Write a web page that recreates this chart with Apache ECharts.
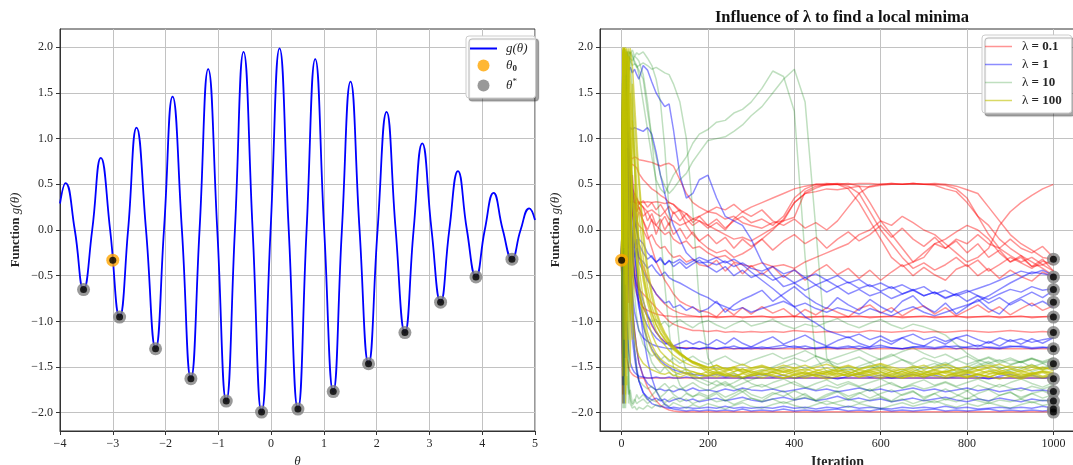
<!DOCTYPE html>
<html>
<head>
<meta charset="utf-8">
<title>Local minima search</title>
<script src="https://cdn.jsdelivr.net/npm/echarts@6/dist/echarts.min.js"></script>
<style>
  html, body { margin: 0; padding: 0; background: #fff; }
  #chart { width: 1073px; height: 465px; }
</style>
</head>
<body>
<div id="chart"></div>
<script>
// ---- g(theta) sampled at its extrema and zero crossings ----
const CURVE_THETA = [-4.00, -3.895, -3.72, -3.554, -3.39, -3.226, -3.05, -2.871, -2.71, -2.550,
  -2.37, -2.189, -2.03, -1.867, -1.69, -1.520, -1.356, -1.192, -1.02, -0.850,
  -0.686, -0.522, -0.35, -0.181, -0.01, 0.160, 0.334, 0.508, 0.672, 0.836,
  1.006, 1.177, 1.341, 1.505, 1.676, 1.846, 2.017, 2.188, 2.36, 2.535,
  2.70, 2.864, 3.04, 3.211, 3.376, 3.540, 3.71, 3.881, 4.048, 4.215,
  4.39, 4.563, 4.727, 4.891, 5.00];
const CURVE_G = [0.29, 0.514, 0, -0.652, 0, 0.790, 0, -0.953, 0, 1.120,
  0, -1.300, 0, 1.460, 0, -1.627, 0, 1.761, 0, -1.873,
  0, 1.949, 0, -1.993, 0, 1.989, 0, -1.960, 0, 1.870,
  0, -1.768, 0, 1.623, 0, -1.464, 0, 1.293, 0, -1.123,
  0, 0.949, 0, -0.790, 0, 0.645, 0, -0.514, 0, 0.406,
  0, -0.319, 0, 0.236, 0.11];

// starting point and local minima
const THETA0 = -3.0;
const G0 = -0.33;
const MIN_THETA = [-3.554, -2.871, -2.189, -1.520, -0.850, -0.181, 0.508, 1.177, 1.846, 2.535, 3.211, 3.881, 4.563];
const MIN_G = [-0.652, -0.953, -1.300, -1.627, -1.873, -1.993, -1.960, -1.768, -1.464, -1.123, -0.790, -0.514, -0.319];

// tick labels
const X_TICKS_LEFT = [-4, -3, -2, -1, 0, 1, 2, 3, 4, 5];
const Y_TICKS = [-2.0, -1.5, -1.0, -0.5, 0.0, 0.5, 1.0, 1.5, 2.0];
const X_TICKS_RIGHT = [0, 200, 400, 600, 800, 1000];

// ---- optimisation runs: g(theta_t) at these iterations ----
const ITER = [0, 3, 6, 9, 12, 16, 20, 25, 30, 35, 40,
  50, 60, 70, 80, 90, 100, 110, 120, 135, 150, 165, 180,
  200, 220, 240, 260, 280, 300,
  325, 350, 375, 400, 425, 450, 475, 500,
  525, 550, 575, 600, 625, 650, 675, 700,
  725, 750, 775, 800, 825, 850, 875, 900,
  925, 950, 975, 1000];

const RUNS_L01 = [
  [-0.33, 0.6, 1.2, 0.4, 1.0, 0.9, 0.8, 0.78, 0.8, 0.79, 0.77,
   0.76, 0.75, 0.74, 0.72, 0.70, 0.72, 0.73, 0.70, 0.55, 0.40, 0.30, 0.25,
   0.20, 0.18, 0.12, 0.15, 0.08, 0.05,
   0.02, 0.08, 0.10, 0.14, 0.42, 0.48, 0.50, 0.51,
   0.50, 0.51, 0.51, 0.50, 0.51, 0.50, 0.51, 0.50,
   0.51, 0.50, 0.48, 0.44, 0.40, 0.25, 0.10, -0.05,
   -0.15, -0.22, -0.30, -0.32],
  [-0.33, 1.4, -0.2, 0.9, 0.2, 0.35, 0.30, 0.31, 0.30, 0.29, 0.31,
   0.30, 0.31, 0.30, 0.31, 0.30, 0.29, 0.30, 0.28, 0.20, 0.05, -0.05, -0.12,
   -0.20, -0.25, -0.22, -0.30, -0.26, -0.20,
   -0.10, 0.00, 0.12, 0.30, 0.40, 0.42, 0.45, 0.44,
   0.46, 0.48, 0.47, 0.49, 0.50, 0.50, 0.51, 0.50,
   0.49, 0.45, 0.42, 0.30, 0.15, 0.05, -0.10, -0.20,
   -0.28, -0.35, -0.42, -0.50],
  [-0.33, -1.5, 0.8, 1.1, 0.6, 0.9, 0.7, 0.72, 0.70, 0.68, 0.62,
   0.55, 0.50, 0.45, 0.42, 0.38, 0.35, 0.30, 0.28, 0.22, 0.18, 0.12, 0.10,
   0.05, 0.00, -0.05, -0.10, -0.08, -0.12,
   -0.05, 0.02, 0.10, 0.30, 0.40, 0.46, 0.50, 0.50,
   0.51, 0.48, 0.30, 0.10, -0.05, -0.20, -0.35, -0.30,
   -0.15, -0.10, -0.02, 0.05, 0.00, -0.10, -0.25, -0.35,
   -0.30, -0.40, -0.38, -0.45],
  [-0.33, 1.8, 0.2, -1.0, 0.5, 1.0, 0.4, 0.6, 0.3, 0.2, 0.25,
   0.15, 0.20, 0.10, 0.05, 0.00, -0.05, -0.02, -0.10, -0.15, -0.12, -0.20, -0.18,
   -0.25, -0.30, -0.28, -0.35, -0.38, -0.40,
   -0.36, -0.40, -0.38, -0.42, -0.35, -0.30, -0.25, -0.20,
   -0.15, -0.05, 0.00, 0.10, 0.05, 0.15, 0.08, 0.00,
   -0.05, -0.15, -0.25, -0.35, -0.30, -0.20, 0.05, 0.20,
   0.30, 0.38, 0.45, 0.50],
  [-0.33, 0.4, 1.6, 0.0, 0.8, 0.6, 0.5, 0.45, 0.40, 0.35, 0.30,
   0.25, 0.20, 0.22, 0.18, 0.15, 0.20, 0.12, 0.10, 0.05, 0.08, 0.12, 0.15,
   0.20, 0.25, 0.22, 0.28, 0.20, 0.25,
   0.30, 0.35, 0.40, 0.45, 0.48, 0.50, 0.49, 0.50,
   0.45, 0.30, 0.10, -0.10, -0.30, -0.40, -0.35, -0.25,
   -0.15, -0.20, -0.10, -0.15, -0.05, -0.15, -0.20, -0.10,
   -0.20, -0.25, -0.18, -0.30],
  [-0.33, 1.0, -1.2, 0.5, 1.3, 0.2, -0.3, -0.5, -0.6, -0.7, -0.78,
   -0.85, -0.88, -0.90, -0.92, -0.93, -0.94, -0.94, -0.95, -0.95, -0.95, -0.95, -0.95,
   -0.95, -0.95, -0.95, -0.95, -0.95, -0.95,
   -0.95, -0.95, -0.95, -0.95, -0.95, -0.95, -0.95, -0.95,
   -0.95, -0.95, -0.95, -0.95, -0.95, -0.95, -0.95, -0.95,
   -0.95, -0.95, -0.95, -0.95, -0.95, -0.95, -0.95, -0.95,
   -0.95, -0.95, -0.95, -0.95],
  [-0.33, -1.8, 0.9, 1.5, 0.2, 0.5, 0.3, 0.32, 0.30, 0.28, 0.25,
   0.10, -0.05, -0.20, -0.35, -0.45, -0.55, -0.62, -0.70, -0.78, -0.82, -0.85, -0.88,
   -0.90, -0.95, -0.86, -0.93, -0.85, -0.92,
   -0.84, -0.91, -0.86, -0.95, -0.87, -0.93, -0.85, -0.90,
   -0.95, -0.86, -0.82, -0.91, -0.85, -0.94, -0.87, -0.83,
   -0.92, -0.85, -0.94, -0.88, -0.82, -0.90, -0.84, -0.93,
   -0.86, -0.80, -0.88, -0.83],
  [-0.33, 0.7, 1.9, -0.5, 0.0, -0.8, 0.2, -0.3, -0.5, -0.6, -0.65,
   -0.70, -0.75, -0.80, -0.85, -0.90, -0.95, -1.00, -1.03, -1.06, -1.08, -1.10, -1.10,
   -1.11, -1.10, -1.12, -1.11, -1.12, -1.11,
   -1.12, -1.11, -1.12, -1.10, -1.11, -1.12, -1.11, -1.12,
   -1.11, -1.12, -1.10, -1.11, -1.12, -1.11, -1.10, -1.12,
   -1.11, -1.12, -1.11, -1.10, -1.11, -1.12, -1.11, -1.10,
   -1.11, -1.12, -1.11, -1.12],
  [-0.33, -1.9, 0.4, 1.2, -0.6, 0.8, 0.1, -0.2, -0.4, -0.55, -0.7,
   -0.85, -0.95, -1.05, -1.12, -1.18, -1.22, -1.25, -1.27, -1.29, -1.29, -1.30, -1.30,
   -1.30, -1.30, -1.30, -1.30, -1.30, -1.30,
   -1.30, -1.30, -1.30, -1.30, -1.30, -1.30, -1.30, -1.30,
   -1.30, -1.30, -1.30, -1.30, -1.30, -1.30, -1.30, -1.30,
   -1.30, -1.30, -1.30, -1.30, -1.30, -1.30, -1.30, -1.30,
   -1.30, -1.30, -1.30, -1.30],
  [-0.33, 1.5, -1.0, 0.3, -1.4, -1.5, -1.55, -1.58, -1.60, -1.61, -1.62,
   -1.62, -1.62, -1.62, -1.62, -1.62, -1.62, -1.62, -1.62, -1.62, -1.62, -1.62, -1.62,
   -1.62, -1.62, -1.62, -1.62, -1.62, -1.62,
   -1.62, -1.62, -1.62, -1.62, -1.62, -1.62, -1.62, -1.62,
   -1.62, -1.62, -1.62, -1.62, -1.62, -1.62, -1.62, -1.62,
   -1.62, -1.62, -1.62, -1.62, -1.62, -1.62, -1.62, -1.62,
   -1.62, -1.62, -1.62, -1.62],
  [-0.33, 0.9, -0.8, 1.6, 0.5, -0.2, -0.6, -0.9, -1.1, -1.3, -1.45,
   -1.60, -1.72, -1.80, -1.87, -1.92, -1.95, -1.97, -1.98, -1.99, -1.99, -1.99, -1.99,
   -1.99, -1.99, -1.99, -1.99, -1.99, -1.99,
   -1.99, -1.99, -1.99, -1.99, -1.99, -1.99, -1.99, -1.99,
   -1.99, -1.99, -1.99, -1.99, -1.99, -1.99, -1.99, -1.99,
   -1.99, -1.99, -1.99, -1.99, -1.99, -1.99, -1.99, -1.99,
   -1.99, -1.99, -1.99, -1.99],
  [-0.33, -0.9, 1.3, 0.6, -0.2, 0.4, 0.1, 0.2, 0.0, 0.1, 0.05,
   0.00, -0.10, -0.05, -0.15, -0.20, -0.18, -0.25, -0.30, -0.28, -0.35, -0.32, -0.38,
   -0.40, -0.33, -0.45, -0.36, -0.48, -0.39,
   -0.49, -0.40, -0.52, -0.43, -0.55, -0.45, -0.38, -0.49,
   -0.42, -0.53, -0.44, -0.55, -0.46, -0.38, -0.50, -0.41,
   -0.49, -0.55, -0.43, -0.38, -0.50, -0.42, -0.53, -0.44,
   -0.51, -0.56, -0.46, -0.52],
  [-0.33, 1.1, -0.4, 0.7, 1.3, 0.9, 0.5, 0.3, 0.4, 0.2, 0.3,
   0.25, 0.10, 0.18, 0.05, 0.12, 0.00, 0.08, -0.05, 0.02, -0.10, -0.02, -0.12,
   -0.05, -0.15, -0.08, -0.20, -0.10, -0.18,
   -0.10, -0.22, -0.12, -0.05, -0.15, -0.08, -0.20, -0.10,
   -0.02, -0.12, -0.05, 0.05, -0.08, 0.02, -0.10, -0.18,
   -0.08, -0.20, -0.12, -0.25, -0.15, -0.30, -0.22, -0.35,
   -0.28, -0.40, -0.32, -0.45],
  [-0.33, -1.2, 1.5, 0.8, 0.2, 0.6, 0.4, 0.15, 0.3, 0.1, 0.2,
   0.10, 0.00, 0.12, -0.05, 0.08, 0.15, 0.05, 0.20, 0.10, 0.18, 0.08, 0.15,
   0.05, 0.12, 0.02, 0.10, 0.15, 0.08,
   0.12, 0.05, 0.15, 0.35, 0.45, 0.50, 0.51, 0.50,
   0.48, 0.40, 0.20, 0.00, -0.15, -0.30, -0.42, -0.36,
   -0.44, -0.38, -0.30, -0.40, -0.33, -0.45, -0.38, -0.30,
   -0.36, -0.42, -0.34, -0.38],
  [-0.33, 0.3, 1.5, 0.8, 1.1, 0.7, 0.5, 0.2, 0.0, -0.2, -0.30,
   -0.40, -0.52, -0.62, -0.70, -0.76, -0.81, -0.85, -0.88, -0.91, -0.93, -0.94, -0.95,
   -0.94, -0.96, -0.95, -0.94, -0.96, -0.95,
   -0.94, -0.96, -0.95, -0.94, -0.96, -0.95, -0.94, -0.96,
   -0.95, -0.94, -0.96, -0.95, -0.94, -0.96, -0.95, -0.94,
   -0.96, -0.95, -0.94, -0.96, -0.95, -0.94, -0.96, -0.95,
   -0.94, -0.96, -0.95, -0.94],
  [-0.33, 1.6, 0.6, -0.5, 0.9, 0.5, 0.35, 0.4, 0.3, 0.35, 0.28,
   0.32, 0.25, 0.30, 0.22, 0.28, 0.20, 0.26, 0.18, 0.22, 0.12, 0.05, 0.10,
   0.02, 0.08, 0.00, 0.12, 0.20, 0.15,
   0.22, 0.10, 0.05, 0.12, 0.02, 0.08, 0.00, 0.10,
   0.25, 0.40, 0.48, 0.50, 0.51, 0.50, 0.51, 0.50,
   0.50, 0.49, 0.45, 0.35, 0.15, -0.05, -0.20, -0.28,
   -0.35, -0.30, -0.38, -0.33]
];

const RUNS_L1 = [
  [-0.33, 0.8, 1.5, 1.7, 1.85, 1.75, 1.78, 1.72, 1.76, 1.70, 1.65,
   1.80, 1.75, 1.62, 1.50, 1.42, 1.35, 1.38, 1.10, 0.60, 0.35, 0.40, 0.55,
   0.60, 0.35, 0.15, 0.10, 0.05, -0.10,
   -0.35, -0.50, -0.62, -0.58, -0.66, -0.60, -0.68, -0.62,
   -0.70, -0.65, -0.72, -0.68, -0.75, -0.70, -0.66, -0.72,
   -0.68, -0.74, -0.70, -0.66, -0.72, -0.76, -0.70, -0.65,
   -0.68, -0.62, -0.66, -0.64],
  [-0.33, -1.2, 1.0, 0.3, 1.1, 1.0, 1.12, 1.10, 1.12, 1.11, 1.10,
   1.08, 1.12, 1.05, 0.85, 0.60, 0.40, 0.20, 0.05, -0.10, -0.25, -0.32, -0.36,
   -0.35, -0.38, -0.34, -0.40, -0.36, -0.42,
   -0.45, -0.40, -0.48, -0.44, -0.52, -0.48, -0.55, -0.50,
   -0.58, -0.54, -0.62, -0.58, -0.64, -0.60, -0.66, -0.62,
   -0.70, -0.66, -0.72, -0.68, -0.64, -0.60, -0.55, -0.50,
   -0.45, -0.48, -0.44, -0.50],
  [-0.33, 1.6, -0.5, 0.9, 0.2, -0.2, 0.1, -0.1, -0.3, -0.2, -0.35,
   -0.45, -0.55, -0.62, -0.70, -0.75, -0.80, -0.78, -0.85, -0.82, -0.88, -0.84, -0.90,
   -0.86, -0.78, -0.90, -0.82, -0.76, -0.72,
   -0.66, -0.78, -0.70, -0.62, -0.72, -0.80, -0.86, -0.74,
   -0.82, -0.88, -0.76, -0.84, -0.90, -0.78, -0.72, -0.84,
   -0.90, -0.80, -0.92, -0.84, -0.76, -0.86, -0.92, -0.80,
   -0.74, -0.68, -0.74, -0.66],
  [-0.33, 0.5, 1.9, -0.8, 0.6, 1.0, 0.6, 0.3, 0.1, 0.0, -0.1,
   -0.15, -0.25, -0.30, -0.35, -0.32, -0.38, -0.34, -0.36, -0.32, -0.38, -0.34, -0.30,
   -0.34, -0.30, -0.36, -0.32, -0.38, -0.46,
   -0.55, -0.64, -0.74, -0.84, -0.95, -1.02, -1.10, -1.14,
   -1.18, -1.14, -1.20, -1.16, -1.22, -1.18, -1.14, -1.20,
   -1.17, -1.22, -1.18, -1.15, -1.20, -1.24, -1.18, -1.22,
   -1.19, -1.23, -1.20, -1.18],
  [-0.33, -1.5, 1.2, 0.4, -0.9, 0.3, -0.4, -0.7, -0.9, -1.0, -1.1,
   -1.18, -1.22, -1.25, -1.27, -1.28, -1.29, -1.30, -1.30, -1.29, -1.30, -1.29, -1.30,
   -1.29, -1.30, -1.28, -1.30, -1.29, -1.30,
   -1.28, -1.30, -1.29, -1.27, -1.30, -1.29, -1.28, -1.30,
   -1.29, -1.27, -1.30, -1.28, -1.29, -1.30, -1.28, -1.29,
   -1.30, -1.28, -1.27, -1.29, -1.30, -1.28, -1.29, -1.27,
   -1.28, -1.30, -1.29, -1.28],
  [-0.33, 0.9, -1.6, 1.4, 0.7, 0.2, 0.0, -0.3, -0.5, -0.65, -0.8,
   -0.95, -1.05, -1.12, -1.18, -1.22, -1.25, -1.23, -1.27, -1.24, -1.21, -1.25, -1.22,
   -1.26, -1.20, -1.25, -1.18, -1.24, -1.28,
   -1.22, -1.17, -1.25, -1.20, -1.15, -1.22, -1.27, -1.21,
   -1.17, -1.24, -1.28, -1.20, -1.25, -1.18, -1.24, -1.27,
   -1.20, -1.25, -1.18, -1.23, -1.28, -1.22, -1.27, -1.20,
   -1.25, -1.19, -1.24, -1.18],
  [-0.33, -1.7, 0.5, -0.3, -1.0, -1.3, -1.45, -1.52, -1.56, -1.58, -1.60,
   -1.61, -1.62, -1.62, -1.61, -1.62, -1.62, -1.61, -1.62, -1.62, -1.61, -1.62, -1.62,
   -1.62, -1.62, -1.62, -1.62, -1.62, -1.62,
   -1.62, -1.62, -1.62, -1.62, -1.62, -1.62, -1.62, -1.62,
   -1.62, -1.62, -1.62, -1.62, -1.62, -1.62, -1.62, -1.62,
   -1.62, -1.62, -1.62, -1.62, -1.62, -1.62, -1.62, -1.62,
   -1.62, -1.62, -1.62, -1.62],
  [-0.33, 1.1, 0.0, -1.4, 1.5, 0.4, -0.3, -0.8, -1.1, -1.3, -1.45,
   -1.60, -1.68, -1.72, -1.75, -1.74, -1.76, -1.75, -1.77, -1.74, -1.76, -1.73, -1.76,
   -1.75, -1.77, -1.74, -1.76, -1.73, -1.75,
   -1.76, -1.74, -1.77, -1.75, -1.73, -1.76, -1.74, -1.77,
   -1.75, -1.73, -1.76, -1.74, -1.77, -1.75, -1.73, -1.76,
   -1.74, -1.77, -1.75, -1.73, -1.76, -1.74, -1.77, -1.75,
   -1.73, -1.76, -1.75, -1.77],
  [-0.33, -0.8, 1.7, -1.1, 0.3, -0.5, -0.9, -1.2, -1.4, -1.55, -1.65,
   -1.78, -1.83, -1.86, -1.84, -1.87, -1.85, -1.88, -1.86, -1.84, -1.87, -1.85, -1.88,
   -1.86, -1.84, -1.87, -1.85, -1.83, -1.86,
   -1.88, -1.85, -1.83, -1.86, -1.84, -1.87, -1.85, -1.82,
   -1.86, -1.84, -1.87, -1.85, -1.88, -1.86, -1.84, -1.87,
   -1.85, -1.83, -1.86, -1.88, -1.85, -1.87, -1.84, -1.86,
   -1.88, -1.85, -1.87, -1.86],
  [-0.33, 1.3, -1.9, 0.6, 1.0, 0.0, -0.6, -1.0, -1.3, -1.5, -1.65,
   -1.78, -1.85, -1.90, -1.92, -1.93, -1.94, -1.95, -1.94, -1.95, -1.94, -1.95, -1.95,
   -1.94, -1.95, -1.93, -1.95, -1.94, -1.95,
   -1.94, -1.95, -1.93, -1.95, -1.94, -1.96, -1.94, -1.95,
   -1.93, -1.95, -1.94, -1.95, -1.96, -1.94, -1.95, -1.94,
   -1.95, -1.93, -1.95, -1.94, -1.96, -1.95, -1.94, -1.95,
   -1.94, -1.95, -1.93, -1.95],
  [-0.33, -1.0, 0.4, 1.2, 0.8, 0.5, 0.2, 0.0, -0.2, -0.1, -0.3,
   -0.35, -0.42, -0.38, -0.45, -0.50, -0.46, -0.52, -0.55, -0.58, -0.62, -0.66, -0.70,
   -0.74, -0.80, -0.84, -0.88, -0.85, -0.90,
   -0.86, -0.82, -0.78, -0.84, -0.80, -0.86, -0.90, -0.85,
   -0.88, -0.92, -0.86, -0.90, -0.94, -0.88, -0.84, -0.90,
   -0.94, -0.90, -0.86, -0.82, -0.78, -0.72, -0.65, -0.58,
   -0.52, -0.46, -0.48, -0.50],
  [-0.33, 0.3, -1.4, 0.9, 1.6, 1.2, 0.8, 0.5, 0.2, 0.0, -0.15,
   -0.25, -0.32, -0.28, -0.36, -0.30, -0.38, -0.33, -0.40, -0.35, -0.42, -0.37, -0.33,
   -0.40, -0.46, -0.40, -0.50, -0.44, -0.52,
   -0.47, -0.55, -0.50, -0.58, -0.52, -0.60, -0.55, -0.62,
   -0.57, -0.64, -0.60, -0.67, -0.62, -0.70, -0.65, -0.72,
   -0.68, -0.75, -0.70, -0.78, -0.72, -0.80, -0.74, -0.82,
   -0.76, -0.83, -0.78, -0.85],
  [-0.33, 1.2, -0.5, 0.6, 0.2, 0.4, 0.1, -0.1, -0.3, -0.45, -0.6,
   -0.78, -0.92, -1.03, -1.12, -1.18, -1.23, -1.26, -1.28, -1.29, -1.30, -1.29, -1.30,
   -1.28, -1.30, -1.29, -1.27, -1.30, -1.28,
   -1.30, -1.28, -1.26, -1.29, -1.27, -1.30, -1.28, -1.29,
   -1.27, -1.30, -1.28, -1.26, -1.29, -1.30, -1.28, -1.27,
   -1.29, -1.27, -1.30, -1.28, -1.26, -1.29, -1.30, -1.28,
   -1.27, -1.29, -1.28, -1.30],
  [-0.33, -1.3, 0.9, 1.5, 1.1, 0.6, 0.2, -0.2, -0.5, -0.7, -0.85,
   -1.05, -1.20, -1.30, -1.38, -1.43, -1.47, -1.50, -1.53, -1.55, -1.57, -1.58, -1.59,
   -1.60, -1.58, -1.61, -1.59, -1.62, -1.60,
   -1.58, -1.61, -1.59, -1.62, -1.60, -1.58, -1.61, -1.63,
   -1.60, -1.58, -1.61, -1.59, -1.62, -1.60, -1.58, -1.61,
   -1.59, -1.62, -1.60, -1.58, -1.61, -1.63, -1.60, -1.58,
   -1.61, -1.59, -1.62, -1.60],
  [-0.33, 1.7, 1.85, 1.2, 1.6, 1.1, 0.6, 0.2, -0.2, -0.5, -0.8,
   -1.15, -1.42, -1.62, -1.76, -1.85, -1.91, -1.94, -1.96, -1.97, -1.98, -1.97, -1.98,
   -1.97, -1.98, -1.97, -1.98, -1.96, -1.98,
   -1.97, -1.98, -1.96, -1.98, -1.97, -1.98, -1.97, -1.96,
   -1.98, -1.97, -1.98, -1.96, -1.98, -1.97, -1.98, -1.97,
   -1.96, -1.98, -1.97, -1.98, -1.97, -1.96, -1.98, -1.97,
   -1.98, -1.97, -1.98, -1.97]
];

const RUNS_L10 = [
  [-0.33, 1.9, 0.6, 1.95, 1.9, 1.8, 1.95, 1.92, 1.85, 1.80, 1.70,
   1.40, 1.10, 0.80, 0.55, 0.45, 0.40, 0.50, 0.60, 0.70, 0.80, 0.95, 1.05,
   1.10, 1.18, 1.20, 1.28, 1.32, 1.40,
   1.55, 1.74, 1.68, 1.30, -0.30, -1.40, -1.55, -1.50,
   -1.58, -1.52, -1.48, -1.55, -1.60, -1.54, -1.50, -1.57,
   -1.52, -1.48, -1.55, -1.50, -1.45, -1.52, -1.58, -1.53,
   -1.49, -1.55, -1.51, -1.47],
  [-0.33, 1.6, 1.95, 1.0, 1.85, 1.95, 1.97, 1.90, 1.82, 1.80, 1.75,
   1.65, 1.30, 1.00, 0.80, 0.60, 0.48, 0.40, 0.45, 0.55, 0.62, 0.75, 0.85,
   0.98, 1.00, 1.02, 1.08, 1.15, 1.25,
   1.35, 1.50, 1.65, 1.76, 1.40, 0.00, -1.40, -1.55,
   -1.50, -1.57, -1.52, -1.48, -1.54, -1.60, -1.55, -1.50,
   -1.46, -1.52, -1.57, -1.53, -1.48, -1.44, -1.50, -1.55,
   -1.52, -1.47, -1.53, -1.50],
  [-0.33, 0.9, 1.98, 1.2, 1.96, 1.9, 1.85, 1.80, 1.82, 1.78, 1.80,
   1.83, 1.80, 1.76, 1.78, 1.75, 1.72, 1.70, 1.60, 1.40, 1.00, 0.20, -0.80,
   -1.40, -1.55, -1.60, -1.56, -1.62, -1.58,
   -1.54, -1.50, -1.45, -1.40, -1.44, -1.38, -1.42, -1.47,
   -1.43, -1.39, -1.45, -1.41, -1.36, -1.42, -1.46, -1.40,
   -1.44, -1.48, -1.42, -1.38, -1.44, -1.40, -1.46, -1.42,
   -1.45, -1.41, -1.44, -1.40],
  [-0.33, 1.97, -0.5, 1.9, 1.95, 1.9, 1.92, 1.85, 1.90, 1.88, 1.85,
   1.70, 1.40, 1.00, 0.50, 0.00, -0.60, -1.10, -1.50, -1.70, -1.78, -1.82, -1.80,
   -1.84, -1.79, -1.87, -1.82, -1.77, -1.84,
   -1.87, -1.80, -1.76, -1.85, -1.79, -1.87, -1.82, -1.77,
   -1.85, -1.79, -1.74, -1.82, -1.87, -1.80, -1.76, -1.85,
   -1.79, -1.86, -1.82, -1.76, -1.84, -1.88, -1.81, -1.77,
   -1.85, -1.79, -1.84, -1.80],
  [-0.33, -1.9, 1.5, -1.95, -1.6, -1.8, -1.75, -1.9, -1.85, -1.9, -1.88,
   -1.85, -1.90, -1.86, -1.88, -1.84, -1.89, -1.86, -1.83, -1.88, -1.85, -1.90, -1.87,
   -1.84, -1.88, -1.86, -1.91, -1.87, -1.84,
   -1.88, -1.85, -1.90, -1.86, -1.83, -1.87, -1.91, -1.88,
   -1.85, -1.89, -1.86, -1.83, -1.88, -1.85, -1.90, -1.86,
   -1.89, -1.85, -1.88, -1.84, -1.87, -1.90, -1.86, -1.88,
   -1.85, -1.89, -1.86, -1.88],
  [-0.33, 1.8, -1.7, 0.5, 1.9, -1.9, 1.0, -0.8, -1.3, -1.55, -1.65,
   -1.70, -1.74, -1.71, -1.76, -1.72, -1.68, -1.73, -1.70, -1.75, -1.71, -1.67, -1.72,
   -1.76, -1.71, -1.68, -1.73, -1.77, -1.72,
   -1.69, -1.74, -1.70, -1.66, -1.72, -1.75, -1.70, -1.73,
   -1.68, -1.72, -1.76, -1.71, -1.67, -1.73, -1.70, -1.74,
   -1.71, -1.67, -1.72, -1.76, -1.70, -1.74, -1.69, -1.73,
   -1.76, -1.71, -1.74, -1.70],
  [-0.33, 1.2, 1.95, -0.3, 1.7, 1.4, 0.9, 0.4, 0.0, -0.4, -0.7,
   -0.85, -0.95, -1.00, -0.98, -1.04, -1.00, -1.06, -1.02, -0.98, -1.03, -1.07, -1.02,
   -0.99, -1.04, -1.08, -1.03, -0.99, -1.05,
   -1.02, -0.98, -1.04, -1.08, -1.03, -1.06, -1.01, -0.97,
   -1.03, -1.07, -1.02, -0.98, -1.04, -1.08, -1.03, -1.06,
   -1.10, -1.15, -1.25, -1.35, -1.42, -1.46, -1.42, -1.47,
   -1.44, -1.40, -1.45, -1.42],
  [-0.33, -1.5, 1.9, 0.8, -0.6, 1.6, 1.95, 1.5, 0.8, 0.0, -0.6,
   -1.00, -1.30, -1.45, -1.52, -1.56, -1.50, -1.55, -1.60, -1.56, -1.52, -1.58, -1.62,
   -1.66, -1.70, -1.66, -1.72, -1.68, -1.64,
   -1.60, -1.55, -1.50, -1.46, -1.52, -1.48, -1.44, -1.50,
   -1.54, -1.49, -1.45, -1.51, -1.47, -1.42, -1.48, -1.53,
   -1.49, -1.45, -1.51, -1.55, -1.50, -1.46, -1.52, -1.48,
   -1.44, -1.50, -1.46, -1.52],
  [-0.33, 1.4, -1.95, 0.6, -1.2, -1.7, -1.85, -1.92, -1.88, -1.80, -1.85,
   -1.80, -1.86, -1.81, -1.76, -1.83, -1.79, -1.74, -1.80, -1.85, -1.79, -1.83, -1.78,
   -1.82, -1.77, -1.83, -1.79, -1.74, -1.80,
   -1.84, -1.78, -1.82, -1.76, -1.81, -1.86, -1.80, -1.76,
   -1.82, -1.78, -1.84, -1.79, -1.75, -1.81, -1.77, -1.83,
   -1.79, -1.74, -1.80, -1.85, -1.79, -1.75, -1.81, -1.78,
   -1.83, -1.79, -1.76, -1.81],
  [-0.33, 1.9, 0.5, 1.97, 1.6, 1.0, 0.3, -0.3, -0.7, -0.95, -1.1,
   -1.25, -1.32, -1.38, -1.35, -1.42, -1.38, -1.44, -1.40, -1.46, -1.42, -1.38, -1.43,
   -1.47, -1.42, -1.38, -1.44, -1.48, -1.43,
   -1.39, -1.35, -1.41, -1.37, -1.32, -1.38, -1.43, -1.39,
   -1.35, -1.31, -1.37, -1.42, -1.38, -1.33, -1.29, -1.35,
   -1.40, -1.36, -1.42, -1.47, -1.43, -1.39, -1.44, -1.40,
   -1.45, -1.41, -1.46, -1.43],
  [-0.33, -1.95, 1.2, 1.9, -0.4, -1.5, -1.9, -1.95, -1.93, -1.97, -1.94,
   -1.96, -1.92, -1.95, -1.91, -1.94, -1.90, -1.93, -1.89, -1.92, -1.95, -1.91, -1.94,
   -1.90, -1.93, -1.96, -1.92, -1.89, -1.93,
   -1.95, -1.91, -1.88, -1.92, -1.95, -1.91, -1.87, -1.91,
   -1.94, -1.90, -1.93, -1.96, -1.92, -1.89, -1.93, -1.90,
   -1.87, -1.91, -1.94, -1.90, -1.93, -1.89, -1.92, -1.95,
   -1.91, -1.88, -1.92, -1.90],
  [-0.33, 1.7, 1.98, 0.4, 1.9, 1.96, 1.93, 1.97, 1.90, 1.94, 1.92,
   1.95, 1.88, 1.80, 1.65, 1.40, 0.90, 0.20, -0.60, -1.30, -1.55, -1.62, -1.66,
   -1.70, -1.65, -1.71, -1.67, -1.62, -1.68,
   -1.72, -1.67, -1.63, -1.69, -1.73, -1.68, -1.64, -1.70,
   -1.66, -1.71, -1.67, -1.63, -1.69, -1.73, -1.68, -1.64,
   -1.70, -1.66, -1.71, -1.67, -1.63, -1.68, -1.72, -1.67,
   -1.63, -1.68, -1.72, -1.67]
];

const RUNS_L100 = [
  [-0.33, 1.95, -1.2, 1.98, 0.9, 1.9, 1.7, 1.3, 0.9, 0.5, 0.2,
   -0.30, -0.62, -0.84, -0.98, -1.08, -1.16, -1.23, -1.29, -1.35, -1.40, -1.44, -1.47,
   -1.50, -1.53, -1.51, -1.55, -1.52, -1.56,
   -1.53, -1.56, -1.59, -1.55, -1.52, -1.56, -1.58, -1.54,
   -1.57, -1.53, -1.56, -1.60, -1.55, -1.52, -1.57, -1.54,
   -1.58, -1.55, -1.52, -1.56, -1.59, -1.55, -1.53, -1.57,
   -1.54, -1.58, -1.55, -1.57],
  [-0.33, 1.8, 1.99, -0.6, 1.9, -1.2, 1.5, -0.5, 0.5, 0.1, -0.2,
   -0.55, -0.80, -0.97, -1.10, -1.19, -1.26, -1.32, -1.37, -1.42, -1.46, -1.49, -1.51,
   -1.53, -1.57, -1.54, -1.51, -1.55, -1.58,
   -1.55, -1.52, -1.56, -1.53, -1.57, -1.60, -1.56, -1.53,
   -1.55, -1.58, -1.54, -1.51, -1.55, -1.58, -1.61, -1.57,
   -1.54, -1.57, -1.60, -1.56, -1.53, -1.57, -1.55, -1.58,
   -1.61, -1.57, -1.54, -1.56],
  [-0.33, 2.0, 0.8, 1.95, -1.0, 1.6, 1.99, 1.8, 1.4, 1.0, 0.6,
   0.00, -0.40, -0.68, -0.88, -1.02, -1.12, -1.20, -1.27, -1.34, -1.40, -1.44, -1.47,
   -1.54, -1.51, -1.55, -1.52, -1.56, -1.53,
   -1.50, -1.54, -1.51, -1.55, -1.58, -1.54, -1.51, -1.55,
   -1.52, -1.56, -1.53, -1.50, -1.54, -1.57, -1.53, -1.56,
   -1.53, -1.50, -1.54, -1.57, -1.54, -1.51, -1.55, -1.52,
   -1.56, -1.53, -1.50, -1.54],
  [-0.33, 1.9, 1.98, 1.3, 0.6, 0.0, -0.5, -0.9, -1.15, -1.3, -1.38,
   -1.46, -1.50, -1.53, -1.55, -1.57, -1.58, -1.56, -1.59, -1.61, -1.58, -1.60, -1.62,
   -1.59, -1.61, -1.58, -1.60, -1.62, -1.59,
   -1.57, -1.60, -1.62, -1.59, -1.56, -1.60, -1.63, -1.60,
   -1.58, -1.61, -1.59, -1.56, -1.60, -1.62, -1.59, -1.57,
   -1.60, -1.62, -1.59, -1.61, -1.58, -1.60, -1.63, -1.60,
   -1.57, -1.60, -1.62, -1.59],
  [-0.33, -1.6, 1.99, 1.7, 1.95, 1.4, 0.9, 0.4, 0.0, -0.3, -0.55,
   -0.90, -1.12, -1.26, -1.35, -1.41, -1.45, -1.48, -1.50, -1.54, -1.57, -1.55, -1.58,
   -1.55, -1.59, -1.56, -1.60, -1.57, -1.54,
   -1.58, -1.55, -1.59, -1.62, -1.58, -1.55, -1.59, -1.56,
   -1.60, -1.57, -1.54, -1.58, -1.61, -1.58, -1.55, -1.59,
   -1.56, -1.60, -1.57, -1.54, -1.58, -1.61, -1.57, -1.55,
   -1.59, -1.56, -1.60, -1.57],
  [-0.33, 1.96, 1.99, -1.8, 1.0, 1.9, -1.5, 1.2, 0.7, 0.2, -0.15,
   -0.50, -0.75, -0.92, -1.04, -1.13, -1.20, -1.26, -1.31, -1.37, -1.41, -1.45, -1.47,
   -1.51, -1.48, -1.52, -1.50, -1.47, -1.51,
   -1.49, -1.52, -1.48, -1.51, -1.54, -1.50, -1.47, -1.51,
   -1.48, -1.52, -1.49, -1.46, -1.50, -1.53, -1.49, -1.52,
   -1.50, -1.47, -1.51, -1.54, -1.50, -1.48, -1.52, -1.49,
   -1.51, -1.48, -1.52, -1.50],
  [-0.33, 1.85, 2.0, 1.7, 1.99, 1.75, 1.5, 1.1, 0.7, 0.3, -0.1,
   -0.45, -0.72, -0.90, -1.03, -1.12, -1.19, -1.25, -1.30, -1.36, -1.41, -1.46, -1.49,
   -1.57, -1.54, -1.58, -1.55, -1.52, -1.56,
   -1.59, -1.56, -1.53, -1.57, -1.60, -1.57, -1.54, -1.58,
   -1.55, -1.59, -1.56, -1.53, -1.57, -1.60, -1.56, -1.59,
   -1.57, -1.54, -1.58, -1.61, -1.57, -1.54, -1.58, -1.56,
   -1.60, -1.57, -1.55, -1.58],
  [-0.33, 1.92, 1.7, 2.0, 1.85, 1.3, 0.9, 0.4, 0.0, -0.35, -0.65,
   -0.98, -1.20, -1.32, -1.39, -1.45, -1.49, -1.51, -1.55, -1.58, -1.56, -1.59, -1.57,
   -1.60, -1.56, -1.59, -1.61, -1.57, -1.60,
   -1.56, -1.59, -1.62, -1.58, -1.55, -1.59, -1.61, -1.57,
   -1.60, -1.56, -1.59, -1.62, -1.58, -1.55, -1.59, -1.61,
   -1.57, -1.60, -1.56, -1.59, -1.62, -1.58, -1.56, -1.60,
   -1.62, -1.58, -1.61, -1.59],
  [-0.33, 0.5, 1.97, -1.9, 1.5, 1.99, -1.0, 1.6, 1.2, 0.8, 0.5,
   -0.10, -0.48, -0.74, -0.92, -1.05, -1.14, -1.21, -1.28, -1.35, -1.40, -1.45, -1.48,
   -1.51, -1.48, -1.53, -1.50, -1.54, -1.51,
   -1.48, -1.52, -1.55, -1.51, -1.48, -1.53, -1.56, -1.52,
   -1.49, -1.53, -1.50, -1.47, -1.52, -1.55, -1.51, -1.48,
   -1.53, -1.56, -1.52, -1.49, -1.53, -1.50, -1.47, -1.51,
   -1.54, -1.50, -1.53, -1.49],
  [-0.33, 1.99, -0.2, 1.9, -1.7, 1.7, 1.2, -1.2, 0.3, -0.1, -0.4,
   -0.75, -0.98, -1.14, -1.25, -1.33, -1.38, -1.42, -1.46, -1.50, -1.53, -1.55, -1.57,
   -1.59, -1.56, -1.60, -1.57, -1.61, -1.58,
   -1.62, -1.58, -1.55, -1.59, -1.62, -1.58, -1.56, -1.60,
   -1.57, -1.61, -1.58, -1.55, -1.59, -1.62, -1.58, -1.61,
   -1.58, -1.55, -1.59, -1.62, -1.58, -1.61, -1.57, -1.60,
   -1.63, -1.59, -1.56, -1.60]
];

const LAMBDA_LABELS = ['0.1', '1', '10', '100'];
const LAMBDA_RUNS = [RUNS_L01, RUNS_L1, RUNS_L10, RUNS_L100];
const LAMBDA_COLORS = ['rgba(255,0,0,0.42)', 'rgba(0,0,255,0.45)', 'rgba(0,128,0,0.25)', 'rgba(191,191,0,0.6)'];

// ---- styling helpers ----
const FONT = '"Liberation Serif", "DejaVu Serif", serif';
const INK = '#262626';
const signed = (s) => s.replace('-', '\u2212');
const fmt1 = (v) => signed(Number(v).toFixed(1));
const fmt0 = (v) => signed(String(Math.round(v)));
// thin horizontal bar used as a line sample in the legends (the two
// degenerate segments pin the icon's bounding box to 27 x 12)
const lineIcon = (h) => 'path://M0,0L0.01,0M27,12L26.99,12M0,' + (6 - h / 2) + 'H27V' + (6 + h / 2) + 'H0Z';

function makeAxis(opts) {
  return Object.assign({
    type: 'value',
    axisLine: { show: true, onZero: false, lineStyle: { color: '#333', width: 1 } },
    axisTick: { show: true, inside: false, length: 4, lineStyle: { color: '#333', width: 1 } },
    splitLine: { show: true, lineStyle: { color: '#c2c2c2', width: 1 } }
  }, opts);
}

const labelStyle = { color: INK, fontFamily: FONT, fontSize: 12 };
const nameRich = {
  b: { fontFamily: FONT, fontSize: 13, fontWeight: 'bold', color: INK },
  i: { fontFamily: FONT, fontSize: 13, fontStyle: 'italic', color: INK }
};

// ---- series ----
const series = [];

series.push({
  type: 'line', name: 'g(\u03b8)', xAxisIndex: 0, yAxisIndex: 0,
  data: CURVE_THETA.map((t, k) => [t, CURVE_G[k]]),
  smooth: 0.5, symbol: 'none', color: '#0000ff',
  lineStyle: { color: '#0000ff', width: 1.8 }, z: 2
});
series.push({
  type: 'scatter', name: '\u03b8*', xAxisIndex: 0, yAxisIndex: 0,
  data: MIN_THETA.map((t, k) => [t, MIN_G[k]]),
  symbolSize: 13, itemStyle: { color: '#808080' }, z: 3
});
series.push({
  type: 'scatter', name: '\u03b80', xAxisIndex: 0, yAxisIndex: 0,
  data: [[THETA0, G0]], symbolSize: 13, itemStyle: { color: '#ffa500' }, z: 3
});
series.push({
  type: 'scatter', name: 'core-left', xAxisIndex: 0, yAxisIndex: 0,
  data: MIN_THETA.map((t, k) => [t, MIN_G[k]]).concat([[THETA0, G0]]),
  symbolSize: 7, itemStyle: { color: '#000' }, z: 4
});

LAMBDA_RUNS.forEach((runs, g) => {
  runs.forEach((run) => {
    const n = Math.min(run.length, ITER.length);
    const data = [];
    for (let k = 0; k < n; k++) data.push([ITER[k], run[k]]);
    series.push({
      type: 'line', name: '\u03bb = ' + LAMBDA_LABELS[g], xAxisIndex: 1, yAxisIndex: 1,
      data, symbol: 'none', color: LAMBDA_COLORS[g],
      lineStyle: { color: LAMBDA_COLORS[g], width: 1.5 }, z: 2, silent: true
    });
  });
});

series.push({
  type: 'scatter', name: '\u03b8* end', xAxisIndex: 1, yAxisIndex: 1,
  data: MIN_G.map((v) => [1000, v]), symbolSize: 13, itemStyle: { color: '#808080' }, z: 5
});
series.push({
  type: 'scatter', name: '\u03b80 start', xAxisIndex: 1, yAxisIndex: 1,
  data: [[0, G0]], symbolSize: 13, itemStyle: { color: '#ffa500' }, z: 5
});
series.push({
  type: 'scatter', name: 'core-right', xAxisIndex: 1, yAxisIndex: 1,
  data: MIN_G.map((v) => [1000, v]).concat([[0, G0]]),
  symbolSize: 7, itemStyle: { color: '#000' }, z: 6
});

const legendBox = {
  orient: 'vertical', backgroundColor: '#fff', borderColor: '#cccccc', borderWidth: 1, borderRadius: 3,
  shadowColor: 'rgba(0,0,0,0.35)', shadowBlur: 1, shadowOffsetX: 3, shadowOffsetY: 3,
  itemWidth: 27, itemHeight: 12, selectedMode: false
};

const option = {
  animation: false,
  backgroundColor: '#fff',
  title: {
    text: 'Influence of \u03bb to find a local minima',
    left: 837, top: 4, textAlign: 'center',
    textStyle: { fontFamily: FONT, fontSize: 16.5, fontWeight: 'bold', color: '#111' }
  },
  grid: [
    { left: 60, top: 29, width: 475, height: 402, show: true, borderColor: '#333', borderWidth: 1, outerBoundsMode: 'none', containLabel: false },
    { left: 600, top: 29, width: 475, height: 402, show: true, borderColor: '#333', borderWidth: 1, outerBoundsMode: 'none', containLabel: false }
  ],
  xAxis: [
    makeAxis({
      gridIndex: 0, min: -4, max: 5, interval: 1,
      axisLabel: Object.assign({ margin: 7, formatter: fmt0, customValues: X_TICKS_LEFT }, labelStyle),
      name: '\u03b8', nameLocation: 'middle', nameGap: 18,
      nameTextStyle: { fontFamily: FONT, fontSize: 13, fontStyle: 'italic', color: INK }
    }),
    makeAxis({
      gridIndex: 1, min: -50, max: 1050,
      axisTick: { show: true, length: 4, customValues: X_TICKS_RIGHT, lineStyle: { color: '#333' } },
      axisLabel: Object.assign({ margin: 7, formatter: fmt0, customValues: X_TICKS_RIGHT }, labelStyle),
      name: 'Iteration', nameLocation: 'middle', nameGap: 19,
      nameTextStyle: { fontFamily: FONT, fontSize: 14, fontWeight: 'bold', color: INK }
    })
  ],
  yAxis: [
    makeAxis({
      gridIndex: 0, min: -2.2, max: 2.2,
      axisTick: { show: true, length: 4, customValues: Y_TICKS, lineStyle: { color: '#333' } },
      axisLabel: Object.assign({ margin: 7, formatter: fmt1, customValues: Y_TICKS }, labelStyle),
      name: '{b|Function} {i|g(\u03b8)}', nameLocation: 'middle', nameGap: 38,
      nameTextStyle: { rich: nameRich }
    }),
    makeAxis({
      gridIndex: 1, min: -2.2, max: 2.2,
      axisTick: { show: true, length: 4, customValues: Y_TICKS, lineStyle: { color: '#333' } },
      axisLabel: Object.assign({ margin: 7, formatter: fmt1, customValues: Y_TICKS }, labelStyle),
      name: '{b|Function} {i|g(\u03b8)}', nameLocation: 'middle', nameGap: 38,
      nameTextStyle: { rich: nameRich }
    })
  ],
  legend: [
    Object.assign({}, legendBox, {
      left: 466, top: 36, padding: [6, 8, 6, 4], itemGap: 4,
      data: [
        { name: 'g(\u03b8)', icon: lineIcon(1.8) },
        { name: '\u03b80', icon: 'circle' },
        { name: '\u03b8*', icon: 'circle' }
      ],
      formatter: (name) => {
        if (name === 'g(\u03b8)') return '{i|g(\u03b8)}';
        if (name === '\u03b80') return '{i|\u03b8}{s|0}';
        return '{i|\u03b8}{p|*}';
      },
      textStyle: {
        fontFamily: FONT, fontSize: 12, color: INK, padding: [0, 0, 0, 4],
        rich: {
          i: { fontFamily: FONT, fontSize: 13, fontStyle: 'italic', color: INK, lineHeight: 16 },
          s: { fontFamily: FONT, fontSize: 9, fontWeight: 'bold', color: INK, verticalAlign: 'bottom', lineHeight: 16 },
          p: { fontFamily: FONT, fontSize: 9, color: INK, verticalAlign: 'top', lineHeight: 16 }
        }
      }
    }),
    Object.assign({}, legendBox, {
      left: 982, top: 35, padding: [5, 10, 6, 3], itemGap: 5,
      data: LAMBDA_LABELS.map((l) => ({ name: '\u03bb = ' + l, icon: lineIcon(1.5) })),
      formatter: (name) => '{l|\u03bb} {b|= ' + name.split('= ')[1] + '}',
      textStyle: {
        fontFamily: FONT, fontSize: 13, color: INK, padding: [0, 0, 0, 5],
        rich: {
          l: { fontFamily: FONT, fontSize: 13, color: INK, lineHeight: 14 },
          b: { fontFamily: FONT, fontSize: 13, fontWeight: 'bold', color: INK, lineHeight: 14 }
        }
      }
    })
  ],
  series
};

const chart = echarts.init(document.getElementById('chart'));
chart.setOption(option);
</script>
</body>
</html>
